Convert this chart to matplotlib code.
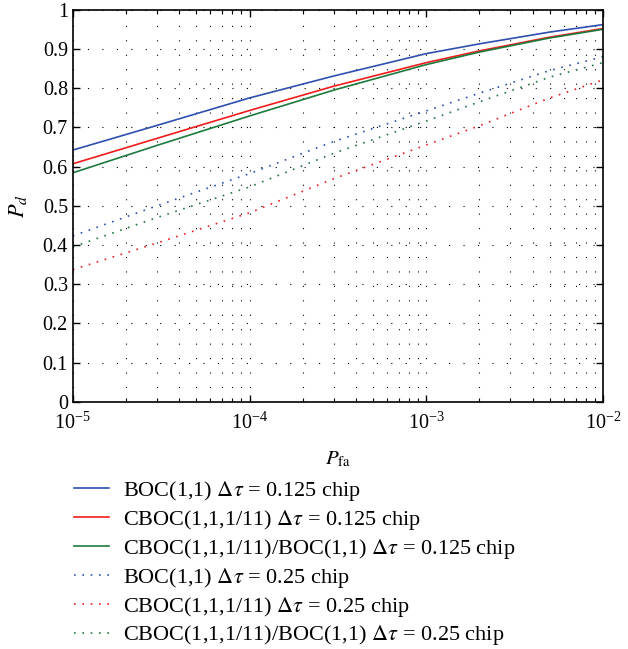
import numpy as np
import matplotlib
matplotlib.use("Agg")
import matplotlib.pyplot as plt
from matplotlib.ticker import LogLocator, FixedLocator

plt.rcParams['font.family'] = ['Liberation Serif', 'DejaVu Serif']
plt.rcParams['mathtext.fontset'] = 'stix'

# false alarm probabilities
pfa = [1e-5, 3e-5, 1e-4, 3e-4, 1e-3, 2e-3, 5e-3, 1e-2]

# detection probabilities, dtau = 0.125 chip
boc_125 = [0.642, 0.705, 0.775, 0.831, 0.888, 0.913, 0.943, 0.962]
cboc_125 = [0.607, 0.672, 0.743, 0.805, 0.865, 0.895, 0.930, 0.952]
mix_125 = [0.584, 0.654, 0.729, 0.795, 0.860, 0.892, 0.928, 0.950]

# detection probabilities, dtau = 0.25 chip
boc_25 = [0.423, 0.500, 0.582, 0.664, 0.742, 0.787, 0.845, 0.880]
cboc_25 = [0.337, 0.405, 0.482, 0.569, 0.655, 0.704, 0.775, 0.821]
mix_25 = [0.395, 0.470, 0.548, 0.634, 0.716, 0.765, 0.828, 0.865]

labels = [r"BOC(1,1) $\Delta\tau$ = 0.125 chip",
          r"CBOC(1,1,1/11) $\Delta\tau$ = 0.125 chip",
          r"CBOC(1,1,1/11)/BOC(1,1) $\Delta\tau$ = 0.125 chip",
          r"BOC(1,1) $\Delta\tau$ = 0.25 chip",
          r"CBOC(1,1,1/11) $\Delta\tau$ = 0.25 chip",
          r"CBOC(1,1,1/11)/BOC(1,1) $\Delta\tau$ = 0.25 chip"]

blue = '#2e4fb0'
red = '#f01c1c'
green = '#1c7a3c'
dots = (0, (1, 4))

fig = plt.figure(figsize=(6.28, 6.49), dpi=100)
ax = fig.add_axes([0.116, 0.381, 0.844, 0.604])

ax.plot(pfa, boc_125, color=blue, lw=1.2, label=labels[0])
ax.plot(pfa, cboc_125, color=red, lw=1.2, label=labels[1])
ax.plot(pfa, mix_125, color=green, lw=1.2, label=labels[2])
ax.plot(pfa, boc_25, color=blue, lw=1.2, ls=dots, label=labels[3])
ax.plot(pfa, cboc_25, color=red, lw=1.2, ls=dots, label=labels[4])
ax.plot(pfa, mix_25, color=green, lw=1.2, ls=dots, label=labels[5])

ax.set_xscale('log')
ax.set_xlim(1e-5, 1e-2)
ax.set_ylim(0, 1)
ax.yaxis.set_major_locator(FixedLocator(np.arange(0, 1.01, 0.1)))
ax.set_yticklabels(['0', '0.1', '0.2', '0.3', '0.4', '0.5', '0.6', '0.7', '0.8', '0.9', '1'])
ax.xaxis.set_major_locator(LogLocator(base=10, numticks=10))
ax.xaxis.set_minor_locator(LogLocator(base=10, subs=np.arange(2, 10), numticks=10))

ax.grid(True, which='both', axis='x', color='black', ls=(0, (1, 12)), lw=0.8)
ax.grid(True, which='major', axis='y', color='black', ls=(0, (1, 12)), lw=0.8)

ax.tick_params(which='both', direction='in', top=True, right=True, labelsize=14.5)
ax.tick_params(which='major', length=5, width=1)
ax.tick_params(which='minor', length=3, width=0.8)
ax.tick_params(axis='x', pad=8)
for s in ax.spines.values():
    s.set_linewidth(1.2)

ax.set_xlabel(r'$P_{\mathrm{fa}}$', fontsize=15, labelpad=11)
ax.set_ylabel(r'$P_d$', fontsize=16, labelpad=10)

fig.legend(loc='upper left', bbox_to_anchor=(0.0854, 0.2928), frameon=False,
           fontsize=16, handlelength=1.6, labelspacing=0.22, handletextpad=0.6)

fig.savefig('out.png', dpi=100)
